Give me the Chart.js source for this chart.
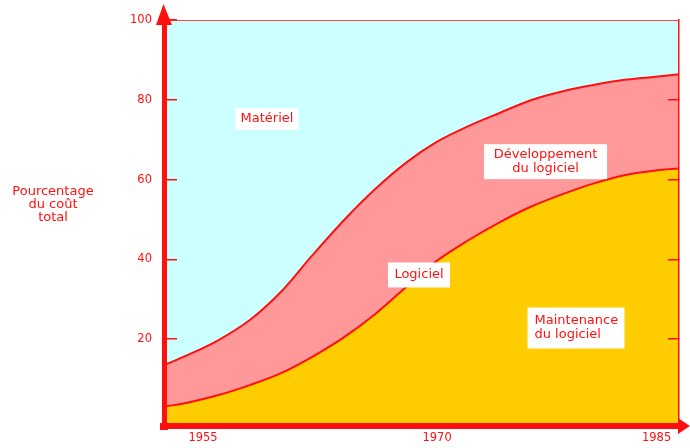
<!DOCTYPE html>
<html lang="fr">
<head>
  <meta charset="UTF-8" />
  <title>Pourcentage du coût total</title>
  <script src="https://cdn.jsdelivr.net/npm/chart.js"></script>
  <style>
    html, body {
      margin: 0;
      padding: 0;
      background: #fff;
    }
  </style>
</head>
<body>
  <canvas id="costChart" width="690" height="448"></canvas>

  <script>
    // values (share of total cost, %)
    const years       = [1952.5, 1954, 1956, 1958, 1960, 1962, 1964, 1966, 1968, 1970, 1972, 1974, 1976, 1978, 1980, 1982, 1984, 1985.5];
    const maintenance = [3.1, 4.1, 6.0, 8.5, 11.5, 15.6, 20.4, 26.2, 33.0, 39.7, 44.8, 49.3, 53.2, 56.3, 59.0, 61.1, 62.3, 62.8];
    const development = [10.4, 11.9, 13.8, 16.3, 20.4, 25.4, 29.3, 31.3, 31.2, 29.8, 28.6, 27.4, 26.7, 25.8, 24.7, 23.9, 23.5, 23.6];
    const hardware    = [86.5, 84.0, 80.2, 75.2, 68.1, 59.0, 50.3, 42.5, 35.8, 30.5, 26.6, 23.3, 20.1, 17.9, 16.3, 15.0, 14.2, 13.6];

    const xTicks = [1955, 1970, 1985];
    const yTicks = [20, 40, 60, 80, 100];
    const yTicksRight = [20, 40, 60, 80];

    const RED = '#ff1010';
    const FONT = 'DejaVu Sans';

    const pts = arr => arr.map((v, i) => ({ x: years[i], y: v }));

    // scales size themselves; drop the label padding chart.js asks for
    const fixSize = (s, w, h) => {
      if (w != null) s.width = w;
      if (h != null) s.height = h;
      s.paddingTop = s.paddingBottom = s.paddingLeft = s.paddingRight = 0;
    };

    // boxed labels, placed in data units
    const notes = [
      { lines: ['Matériel'], x: 1959.1, y: 75.2, w: 63, h: 22, align: 'center' },
      { lines: ['Développement', 'du logiciel'], x: 1976.95, y: 64.5, w: 123, h: 35, align: 'center' },
      { lines: ['Logiciel'], x: 1968.84, y: 36.1, w: 62, h: 25, align: 'center' },
      { lines: ['Maintenance', 'du logiciel'], x: 1978.9, y: 22.8, w: 97, h: 41, align: 'left' }
    ];

    const decorations = {
      id: 'decorations',
      afterDraw(chart) {
        const { ctx, chartArea: a, scales: { x, y } } = chart;
        ctx.save();
        ctx.fillStyle = RED;

        // arrow heads on the axes
        ctx.beginPath();
        ctx.moveTo(a.left - 0.5, a.top - 16);
        ctx.lineTo(a.left + 8, a.top + 5);
        ctx.lineTo(a.left - 8, a.top + 5);
        ctx.closePath();
        ctx.fill();

        ctx.beginPath();
        ctx.moveTo(a.right + 11, a.bottom);
        ctx.lineTo(a.right - 1, a.bottom - 8);
        ctx.lineTo(a.right - 1, a.bottom + 8);
        ctx.closePath();
        ctx.fill();

        // corner where the two axes meet
        ctx.fillRect(a.left - 4, a.bottom - 3, 8, 7);

        // white boxes with labels
        ctx.font = '13px "' + FONT + '"';
        ctx.textBaseline = 'middle';
        notes.forEach(n => {
          const cx = x.getPixelForValue(n.x);
          const cy = y.getPixelForValue(n.y);
          ctx.fillStyle = '#fff';
          ctx.fillRect(cx - n.w / 2, cy - n.h / 2, n.w, n.h);
          ctx.fillStyle = RED;
          ctx.textAlign = n.align;
          const tx = n.align === 'left' ? cx - n.w / 2 + 7 : cx;
          n.lines.forEach((t, i) => {
            ctx.fillText(t, tx, cy + (i - (n.lines.length - 1) / 2) * 14);
          });
        });

        // axis title, written horizontally left of the axis
        const title = ['Pourcentage', 'du coût', 'total'];
        ctx.textAlign = 'center';
        const ty = y.getPixelForValue(53.7);
        title.forEach((t, i) => {
          ctx.fillText(t, a.left - 111, ty + (i - 1) * 13);
        });
        ctx.restore();
      }
    };

    new Chart(document.getElementById('costChart'), {
      type: 'line',
      data: {
        datasets: [
          {
            label: 'Maintenance du logiciel',
            data: pts(maintenance),
            backgroundColor: '#ffcc00',
            borderColor: RED,
            borderWidth: 2,
            fill: 'start'
          },
          {
            label: 'Développement du logiciel',
            data: pts(development),
            backgroundColor: '#ff9999',
            borderColor: RED,
            borderWidth: 2,
            fill: '-1'
          },
          {
            label: 'Matériel',
            data: pts(hardware),
            backgroundColor: '#ccffff',
            borderColor: RED,
            borderWidth: 1.5,
            fill: '-1'
          }
        ]
      },
      options: {
        responsive: false,
        animation: false,
        cubicInterpolationMode: 'monotone',
        elements: { point: { radius: 0 } },
        layout: { padding: { top: 20, left: 0, right: 0, bottom: 0 } },
        plugins: {
          legend: { display: false },
          tooltip: { enabled: false }
        },
        scales: {
          x: {
            type: 'linear',
            min: 1952.5,
            max: 1985.5,
            afterBuildTicks: s => { s.ticks = [1952.5, ...xTicks].map(v => ({ value: v })); },
            afterFit: s => fixSize(s, null, 22),
            grid: { display: false, drawTicks: false },
            border: { display: true, color: RED, width: 6, z: 1 },
            ticks: {
              align: 'inner',
              autoSkip: false,
              maxRotation: 0,
              padding: 5,
              color: RED,
              font: { family: FONT, size: 11.5 },
              callback: v => xTicks.includes(v) ? String(v) : ''
            }
          },
          y: {
            type: 'linear',
            stacked: true,
            min: -1.75,
            max: 100,
            afterBuildTicks: s => { s.ticks = yTicks.map(v => ({ value: v })); },
            afterFit: s => fixSize(s, 164, null),
            grid: { drawOnChartArea: false, drawTicks: true, tickLength: -13, color: RED, lineWidth: 1.5, z: 1 },
            border: { color: RED, width: 5, z: 1 },
            ticks: {
              padding: 25,
              color: RED,
              font: { family: FONT, size: 11.5 },
              callback: v => String(v)
            }
          },
          yRight: {
            type: 'linear',
            position: 'right',
            min: -1.75,
            max: 100,
            afterBuildTicks: s => { s.ticks = yTicksRight.map(v => ({ value: v })); },
            afterFit: s => fixSize(s, 11, null),
            grid: { drawOnChartArea: false, drawTicks: true, tickLength: -11, color: RED, lineWidth: 1.5, z: 1 },
            border: { color: RED, width: 1.5, z: 1 },
            ticks: { display: false }
          }
        }
      },
      plugins: [decorations]
    });
  </script>
</body>
</html>
